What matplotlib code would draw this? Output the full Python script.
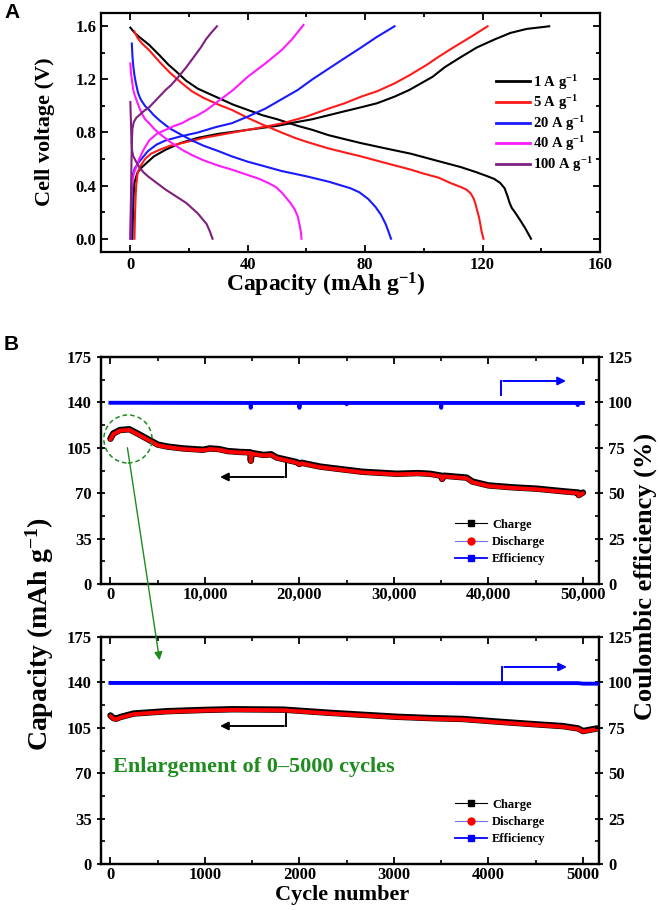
import matplotlib
matplotlib.use("Agg")
import matplotlib.pyplot as plt
from matplotlib.lines import Line2D
from matplotlib.patches import Ellipse, FancyArrowPatch
from matplotlib.ticker import MultipleLocator, FormatStrFormatter

plt.rcParams['font.family'] = ['Liberation Serif', 'DejaVu Serif']
plt.rcParams['font.weight'] = 'bold'
plt.rcParams['mathtext.fontset'] = 'custom'
plt.rcParams['mathtext.rm'] = 'Liberation Serif:bold'
plt.rcParams['mathtext.bf'] = 'Liberation Serif:bold'
plt.rcParams['mathtext.default'] = 'rm'

# ---------------- Panel A data ----------------
rate_labels = [r'1 A g$^{-1}$', r'5 A g$^{-1}$', r'20 A g$^{-1}$', r'40 A g$^{-1}$', r'100 A g$^{-1}$']
rate_colors = ['#000000', '#ff1a1a', '#1a1aff', '#ff1aff', '#7f1f7f']

chg1_cap = [0.7, 0.8, 0.9, 1.1, 1.4, 2, 2.5, 4, 6, 8, 12, 17, 23, 30, 40, 50, 57, 62, 67.5, 73, 78.6,
            84, 90, 95, 99, 103, 107, 112, 118, 124, 129.5, 135, 142.7]
chg1_v = [0.0, 0.1, 0.2, 0.32, 0.42, 0.47, 0.5, 0.54, 0.58, 0.62, 0.67, 0.72, 0.76, 0.79, 0.82, 0.85, 0.88,
          0.9, 0.93, 0.96, 0.99, 1.02, 1.07, 1.12, 1.17, 1.22, 1.29, 1.36, 1.44, 1.5, 1.55, 1.58, 1.6]
dis1_cap = [0, 1.5, 3, 6.4, 10, 13, 15.6, 19, 23, 27, 30, 35, 40, 45, 50, 57, 62, 67.5, 73, 78.6, 87, 95.6,
            104, 112.5, 118, 121.7, 124, 126, 127.5, 128.5, 129.2, 130, 131, 132.5, 134.5, 136.5]
dis1_v = [1.59, 1.55, 1.52, 1.46, 1.38, 1.31, 1.26, 1.19, 1.13, 1.09, 1.06, 1.01, 0.97, 0.93, 0.9, 0.85,
          0.82, 0.78, 0.75, 0.72, 0.68, 0.64, 0.59, 0.54, 0.5, 0.47, 0.45, 0.42, 0.38, 0.32, 0.27, 0.23,
          0.2, 0.15, 0.08, 0.0]

chg5_cap = [1.4, 1.5, 1.6, 1.8, 2, 2.5, 3.5, 5, 7, 10, 13.5, 17.6, 25, 35, 45, 52, 60, 67.5, 73, 78.6, 84,
            90, 95, 101, 105, 110, 116, 121.7]
chg5_v = [0.0, 0.1, 0.2, 0.32, 0.4, 0.5, 0.55, 0.6, 0.64, 0.67, 0.7, 0.72, 0.76, 0.8, 0.84, 0.87, 0.92,
          0.98, 1.02, 1.07, 1.11, 1.17, 1.23, 1.31, 1.37, 1.44, 1.52, 1.6]
dis5_cap = [1.4, 2.5, 4, 6.4, 8, 10, 13.5, 17.6, 21, 25, 30, 34.6, 40, 45, 51.5, 56, 60, 67.5, 73, 78.6, 87,
            95.6, 100, 105, 109, 112.5, 114.5, 116, 117, 117.6, 118.3, 118.8, 119.3, 119.7, 120.3]
dis5_v = [1.56, 1.51, 1.47, 1.42, 1.38, 1.33, 1.25, 1.17, 1.11, 1.06, 1.01, 0.97, 0.91, 0.86, 0.8, 0.76,
          0.73, 0.68, 0.65, 0.62, 0.57, 0.52, 0.49, 0.46, 0.42, 0.39, 0.37, 0.34, 0.3, 0.26, 0.2, 0.16,
          0.1, 0.05, 0.0]

chg20_cap = [0.3, 0.4, 0.5, 0.7, 1.5, 3, 6, 9, 12, 17, 23, 29, 34.6, 40, 46, 51.5, 57, 62, 67.5, 73, 78.6,
             84, 90]
chg20_v = [0.0, 0.15, 0.3, 0.47, 0.53, 0.58, 0.66, 0.71, 0.74, 0.77, 0.8, 0.84, 0.87, 0.92, 0.98, 1.05,
           1.12, 1.2, 1.28, 1.36, 1.44, 1.52, 1.6]
dis20_cap = [0.5, 0.7, 1, 1.4, 1.9, 2.6, 3.5, 5, 6.4, 8, 10, 13.5, 17.6, 21, 25, 30, 34.6, 40, 45, 51.5,
             60, 67.5, 72, 75, 78, 81, 83.5, 85.4, 87, 88, 88.8]
dis20_v = [1.47, 1.38, 1.3, 1.23, 1.17, 1.1, 1.05, 1.0, 0.97, 0.93, 0.89, 0.83, 0.78, 0.74, 0.7, 0.66,
           0.62, 0.58, 0.55, 0.51, 0.47, 0.43, 0.4, 0.38, 0.35, 0.3, 0.24, 0.18, 0.11, 0.05, 0.0]

chg40_cap = [0, 0.15, 0.3, 0.5, 0.8, 1.3, 2, 3, 4.5, 6.4, 9, 12, 15, 17.6, 20, 23, 26, 29, 32, 35, 40, 46,
             51.5, 55, 59]
chg40_v = [0.0, 0.15, 0.3, 0.4, 0.45, 0.5, 0.54, 0.6, 0.67, 0.74, 0.79, 0.82, 0.85, 0.87, 0.9, 0.93,
           0.97, 1.02, 1.07, 1.12, 1.22, 1.32, 1.42, 1.5, 1.61]
dis40_cap = [0, 0.2, 0.5, 1, 1.5, 2, 3, 4, 5, 6.4, 8, 10, 13.5, 17.6, 21, 25, 30, 34.6, 40, 44, 47, 49.5,
             51.5, 53, 54.5, 56, 57, 57.7, 58.1, 58.3]
dis40_v = [1.32, 1.25, 1.2, 1.12, 1.08, 1.05, 0.99, 0.94, 0.9, 0.87, 0.83, 0.79, 0.73, 0.67, 0.63, 0.59,
           0.55, 0.52, 0.48, 0.45, 0.42, 0.39, 0.35, 0.31, 0.27, 0.22, 0.17, 0.1, 0.05, 0.0]

chg100_cap = [0, 0.1, 0.2, 0.3, 0.4, 0.5, 0.7, 1.2, 2, 3, 4.5, 6.4, 9, 12, 14, 16, 19, 22, 24, 25.7, 27.5,
              29.5]
chg100_v = [0.0, 0.15, 0.3, 0.45, 0.6, 0.72, 0.83, 0.88, 0.91, 0.93, 0.96, 0.99, 1.05, 1.12, 1.16, 1.21,
            1.29, 1.38, 1.44, 1.5, 1.55, 1.6]
dis100_cap = [0, 0.1, 0.2, 0.3, 0.4, 0.6, 1, 1.5, 2.2, 3, 4.5, 6, 9, 12, 15.5, 19, 21, 23, 24.5, 26, 27, 28]
dis100_v = [1.03, 0.95, 0.88, 0.8, 0.72, 0.66, 0.62, 0.6, 0.57, 0.54, 0.5, 0.47, 0.42, 0.37, 0.32, 0.27,
            0.23, 0.19, 0.15, 0.11, 0.06, 0.0]

charge_caps = [chg1_cap, chg5_cap, chg20_cap, chg40_cap, chg100_cap]
charge_vs = [chg1_v, chg5_v, chg20_v, chg40_v, chg100_v]
dis_caps = [dis1_cap, dis5_cap, dis20_cap, dis40_cap, dis100_cap]
dis_vs = [dis1_v, dis5_v, dis20_v, dis40_v, dis100_v]

# ---------------- Panel B data (0-50,000 cycles) ----------------
long_cycles = [0, 300, 1000, 2000, 3000, 4000, 5000, 6000, 7700, 9800, 10500, 11500, 12400, 13700,
               14800, 14850, 14950, 16200, 17000, 17600, 19700, 20000, 20200, 22200, 23300, 25000,
               26700, 30300, 32500, 33800, 35000, 35100, 35300, 37700, 38300, 40000, 42600, 45100,
               47900, 49500, 49550, 50000]
long_charge = [112, 116, 118.7, 119.3, 115.5, 111.5, 107.5, 106, 104.5, 103.5, 104.5, 104, 102.5, 101.8,
               101.5, 95, 101, 99.5, 100, 97.5, 94, 92.5, 93.5, 90.5, 89.5, 88,
               86.5, 85, 85.5, 85, 83.5, 81, 83.5, 82, 79, 76, 74.5, 73.5,
               71.5, 70.5, 68.5, 70.5]
long_discharge = [111.5, 115.5, 118.2, 118.8, 115, 111, 107, 105.5, 104, 103, 104, 103.5, 102, 101.3,
                  101, 94.5, 100.5, 99, 99.5, 97, 93.5, 92, 93, 90, 89, 87.5,
                  86, 84.5, 85, 84.5, 83, 80.5, 83, 81.5, 78.5, 75.5, 74, 73,
                  71, 70, 68, 70]
long_eff_cycles = [0, 14800, 14850, 14900, 19950, 20000, 20050, 24950, 25000, 25050, 34950, 35000, 35050,
                   49400, 49450, 49500, 50000]
long_eff = [99.8, 99.7, 97, 99.7, 99.7, 97, 99.7, 99.7, 99.0, 99.7, 99.7, 97, 99.7,
            99.7, 98.5, 99.7, 99.7]

# ---------------- Panel B data (0-5000 cycles) ----------------
short_cycles = [0, 30, 60, 105, 245, 600, 1000, 1300, 1830, 2330, 2680, 3030, 3380, 3730, 4090, 4440,
                4790, 4950, 5000, 5150]
short_charge = [114.5, 112.5, 112, 113.3, 116, 117.8, 118.8, 119.3, 119, 116.5, 115, 113.5, 112.5, 111.8,
                109.8, 108, 106.3, 104.5, 102.5, 104.5]
short_discharge = [114, 112, 111.5, 112.8, 115.5, 117.3, 118.3, 118.8, 118.5, 116, 114.5, 113, 112, 111.3,
                   109.3, 107.5, 105.8, 104, 102, 104]
short_eff_cycles = [0, 2000, 4000, 4950, 5000, 5170]
short_eff = [99.7, 99.7, 99.6, 99.6, 99.3, 99.3]

long_xticks = [0, 10000, 20000, 30000, 40000, 50000]
long_xticklabels = ['0', '10,000', '20,000', '30,000', '40,000', '50,000']
short_xticks = [0, 1000, 2000, 3000, 4000, 5000]
cap_ticks = [0, 35, 70, 105, 140, 175]
eff_ticks = [0, 25, 50, 75, 100, 125]

W, H = 660, 910
fig = plt.figure(figsize=(6.6, 9.1), dpi=100)


def fx(px):
    return px / W


def fy(py):
    return 1 - py / H


TICK = 12
GREEN = '#1e8c1e'

# ---------------- Panel A ----------------
axA = fig.add_axes([fx(101), fy(252), fx(600) - fx(101), fy(13) - fy(252)])
for i in range(5):
    axA.plot(charge_caps[i], charge_vs[i], color=rate_colors[i], lw=1.5, label=rate_labels[i])
    axA.plot(dis_caps[i], dis_vs[i], color=rate_colors[i], lw=1.5)
axA.set_xlim(-10, 160)
axA.set_ylim(-0.1, 1.7)
axA.xaxis.set_major_locator(MultipleLocator(40))
axA.xaxis.set_minor_locator(MultipleLocator(20))
axA.yaxis.set_major_locator(MultipleLocator(0.4))
axA.yaxis.set_minor_locator(MultipleLocator(0.2))
axA.yaxis.set_major_formatter(FormatStrFormatter('%.1f'))
axA.tick_params(which='both', direction='in', top=True, right=True, labelsize=TICK, width=1.3)
axA.tick_params(which='major', length=5)
axA.tick_params(which='minor', length=3)
for s in axA.spines.values():
    s.set_linewidth(1.6)
axA.set_xlabel(r'Capacity (mAh g$^{-1}$)', fontsize=17, fontweight='bold')
axA.xaxis.set_label_coords(0.45, -0.08)
fig.text(fx(45), fy(132), 'Cell voltage (V)', rotation=90, fontsize=16, fontweight='bold',
         ha='center', va='center')
legA = axA.legend(loc='upper left', bbox_to_anchor=(0.78, 0.775), frameon=False, fontsize=10.5,
                  handlelength=2.3, handletextpad=0.2, labelspacing=0.12, borderaxespad=0)
for ln in legA.get_lines():
    ln.set_linewidth(2)

fig.text(fx(4), fy(12), 'A', fontsize=15, fontweight='bold', family=['Liberation Sans', 'DejaVu Sans'],
         ha='left', va='center')
fig.text(fx(4), fy(345), 'B', fontsize=15, fontweight='bold', family=['Liberation Sans', 'DejaVu Sans'],
         ha='left', va='center')


def style_b(ax, ax2):
    ax.set_ylim(0, 175)
    ax2.set_ylim(0, 125)
    ax.set_yticks(cap_ticks)
    ax2.set_yticks(eff_ticks)
    ax.yaxis.set_minor_locator(MultipleLocator(17.5))
    ax2.yaxis.set_minor_locator(MultipleLocator(12.5))
    ax.tick_params(which='major', direction='inout', length=6, width=1.3, labelsize=TICK, top=True)
    ax.tick_params(which='minor', direction='in', length=3, width=1.2, top=True)
    ax.tick_params(axis='x', which='major', direction='in', length=5, pad=2)
    ax2.tick_params(which='major', direction='inout', length=6, width=1.3, labelsize=TICK)
    ax2.tick_params(which='minor', direction='in', length=3, width=1.2)
    for s in ax.spines.values():
        s.set_linewidth(1.6)
    for s in ax2.spines.values():
        s.set_linewidth(1.6)


legend_handles = [
    Line2D([], [], color='black', lw=0.8, marker='s', ms=5, mfc='black', mec='black'),
    Line2D([], [], color='#7070ff', lw=0.8, marker='o', ms=5, mfc='red', mec='red'),
    Line2D([], [], color='blue', lw=1.3, marker='s', ms=5, mfc='blue', mec='blue'),
]
legend_labels = ['Charge', 'Discharge', 'Efficiency']
LEG_KW = dict(loc='upper left', bbox_to_anchor=(0.70, 0.31), frameon=False, fontsize=9,
              handlelength=2.6, handletextpad=0.4, labelspacing=0.42, borderaxespad=0)

# ---------------- Panel B top ----------------
axB1 = fig.add_axes([fx(101), fy(584), fx(599) - fx(101), fy(357) - fy(584)])
axB1r = axB1.twinx()
axB1.plot(long_cycles, long_charge, color='black', lw=4.6, solid_capstyle='round', zorder=3)
axB1.plot(long_cycles, long_discharge, color='red', lw=2.9, solid_capstyle='round', zorder=4)
axB1r.plot(long_eff_cycles, long_eff, color='blue', lw=2.8, zorder=3)
axB1.set_xlim(-1000, 51700)
axB1.set_xticks(long_xticks)
axB1.set_xticklabels(long_xticklabels)
axB1.xaxis.set_minor_locator(MultipleLocator(5000))
style_b(axB1, axB1r)
axB1.add_patch(Ellipse((1850, 111.8), 5100, 37, fill=False, ls=(0, (3, 2)), lw=1.1, color=GREEN, zorder=6))
axB1.plot([18600, 18600], [93.3, 82.5], color='black', lw=1.4)
axB1.annotate('', xy=(11300, 82.5), xytext=(18650, 82.5),
              arrowprops=dict(arrowstyle='-|>', color='black', lw=1.4, mutation_scale=12))
axB1r.plot([41330, 41330], [104, 111.8], color='blue', lw=1.4)
axB1r.annotate('', xy=(48500, 111.8), xytext=(41280, 111.8),
               arrowprops=dict(arrowstyle='-|>', color='blue', lw=1.4, mutation_scale=12))
axB1.legend(legend_handles, legend_labels, **LEG_KW)

# ---------------- Panel B bottom ----------------
axB2 = fig.add_axes([fx(101), fy(864), fx(599) - fx(101), fy(637) - fy(864)])
axB2r = axB2.twinx()
axB2.plot(short_cycles, short_charge, color='black', lw=4.6, solid_capstyle='round', zorder=3)
axB2.plot(short_cycles, short_discharge, color='red', lw=2.9, solid_capstyle='round', zorder=4)
axB2r.plot(short_eff_cycles, short_eff, color='blue', lw=2.8, zorder=3)
axB2.set_xlim(-100, 5170)
axB2.set_xticks(short_xticks)
axB2.xaxis.set_minor_locator(MultipleLocator(500))
style_b(axB2, axB2r)
axB2.plot([1860, 1860], [117, 106.4], color='black', lw=1.4)
axB2.annotate('', xy=(1130, 106.4), xytext=(1865, 106.4),
              arrowprops=dict(arrowstyle='-|>', color='black', lw=1.4, mutation_scale=12))
axB2r.plot([4144, 4144], [100.2, 108.5], color='blue', lw=1.4)
axB2r.annotate('', xy=(4860, 108.5), xytext=(4139, 108.5),
               arrowprops=dict(arrowstyle='-|>', color='blue', lw=1.4, mutation_scale=12))
axB2.legend(legend_handles, legend_labels, **LEG_KW)
axB2.text(0.025, 0.427, 'Enlargement of 0\u20135000 cycles', transform=axB2.transAxes, color=GREEN,
          fontsize=16, fontweight='bold', ha='left', va='center')
axB2.set_xlabel('Cycle number', fontsize=16, fontweight='bold')
axB2.xaxis.set_label_coords(0.484, -0.094)

# shared labels
fig.text(fx(40), fy(634), r'Capacity (mAh g$^{-1}$)', rotation=90, fontsize=20, fontweight='bold',
         ha='center', va='center')
fig.text(fx(645), fy(576), 'Coulombic efficiency (%)', rotation=90, fontsize=19, fontweight='bold',
         ha='center', va='center')

# green arrow linking the circle to the enlargement
fig.add_artist(FancyArrowPatch((fx(127), fy(445)), (fx(160), fy(663)), transform=fig.transFigure,
                               arrowstyle='-|>', mutation_scale=12, color=GREEN, lw=1.0))

fig.savefig('out.png', dpi=100)
